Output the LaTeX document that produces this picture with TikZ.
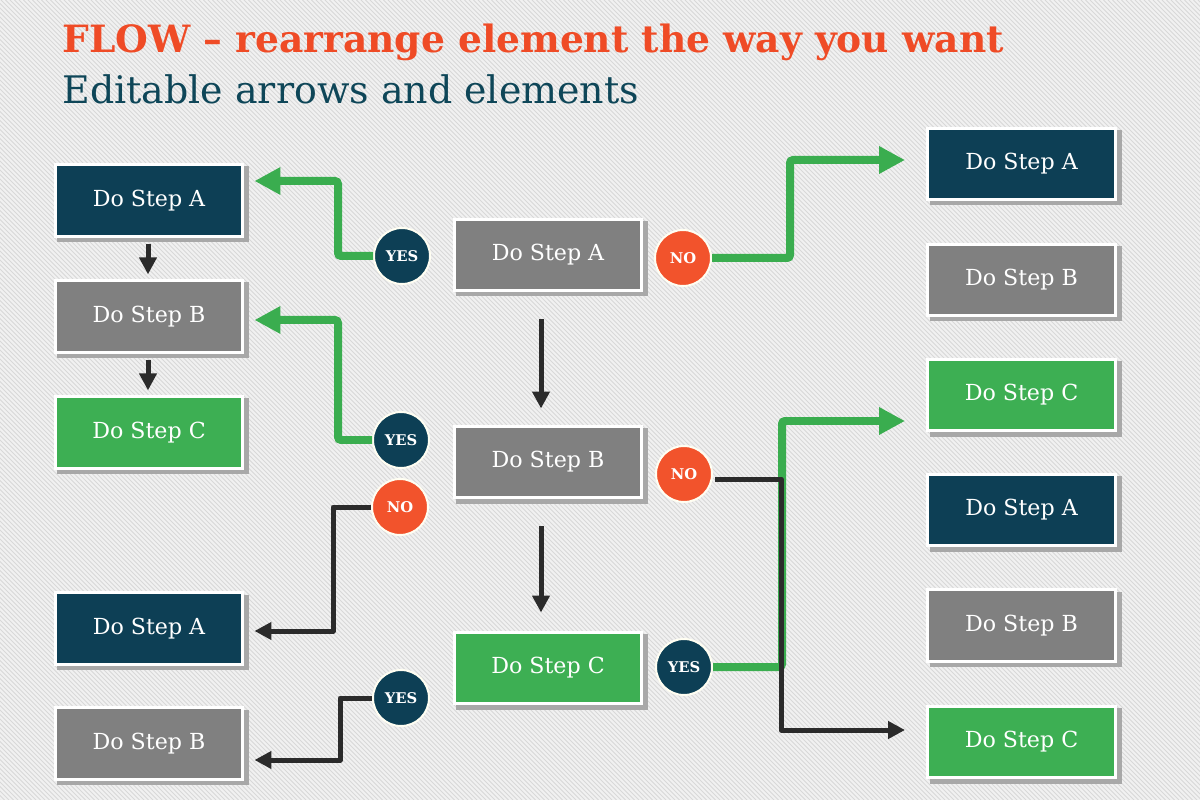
\documentclass[tikz,border=0pt]{standalone}
\usepackage{fontspec}
\setmainfont{DejaVu Serif}
\usetikzlibrary{arrows.meta,calc}
\definecolor{dteal}{HTML}{0D3F55}
\definecolor{mgray}{HTML}{808080}
\definecolor{bgreen}{HTML}{3DAF53}
\definecolor{agreen}{HTML}{3AAD4F}
\definecolor{corange}{HTML}{F2532C}
\definecolor{torange}{HTML}{EF4B26}
\definecolor{subteal}{HTML}{0E4658}
\definecolor{ablack}{HTML}{2B2B2B}
\definecolor{shadowc}{HTML}{A8A8A8}
\definecolor{bgc}{HTML}{F1F1F1}
\definecolor{stripec}{HTML}{D8D8D8}
\tikzset{
  stepbox/.style={draw=white, line width=0.06cm, minimum width=3.76cm, minimum height=1.44cm,
    text=white, font=\fontsize{12.6}{14}\selectfont, inner sep=0pt},
  darkbox/.style={stepbox, fill=dteal},
  graybox/.style={stepbox, fill=mgray},
  greenbox/.style={stepbox, fill=bgreen},
  badge/.style={circle, draw=white!95!yellow, line width=0.04cm, minimum size=1.12cm, inner sep=0pt,
    text=white, font=\bfseries\fontsize{8.4}{10}\selectfont},
  yesbadge/.style={badge, fill=dteal},
  nobadge/.style={badge, fill=corange},
  garrow/.style={draw=agreen, line width=0.16cm, rounded corners=0.06cm,
    -{Triangle[length=0.52cm, width=0.52cm]}},
  karrow/.style={draw=ablack, line width=0.1cm, line join=round,
    -{Triangle[length=0.34cm, width=0.34cm]}},
  stripe/.style={draw=stripec, line width=0.018cm},
}
\begin{document}
\begin{tikzpicture}[x=0.02cm,y=-0.02cm]
\useasboundingbox (0,0) rectangle (1200,800);
\fill[bgc] (0,0) rectangle (1200,800);
\begin{scope}
\clip (0,0) rectangle (1200,800);
\foreach \i in {-800,-795.5,...,1200} \draw[stripe] (\i,0) -- (\i+800,800);
\end{scope}

% titles
\node[anchor=base west, inner sep=0pt, text=torange, font=\bfseries\fontsize{21.4}{24}\selectfont] (title) at (62,53) {FLOW – rearrange element the way you want};
\node[anchor=base west, inner sep=0pt, text=subteal, font=\fontsize{21.6}{24}\selectfont] (sub) at (62,104) {Editable arrows and elements};

% box shadows
\foreach \cx/\cy in {149/200.5,149/316.5,149/432.5,149/628.5,149/743.5,548/255,548/462,548/668,1021.5/164,1021.5/280,1021.5/395,1021.5/510,1021.5/625.5,1021.5/742}
  \fill[shadowc] (\cx-92,\cy-34) rectangle (\cx+100,\cy+41.5);

\node[darkbox]  (L1) at (149,200.5) {Do Step A};
\node[graybox]  (L2) at (149,316.5) {Do Step B};
\node[greenbox] (L3) at (149,432.5) {Do Step C};
\node[darkbox]  (L4) at (149,628.5) {Do Step A};
\node[graybox]  (L5) at (149,743.5) {Do Step B};

\node[graybox]  (M1) at (548,255) {Do Step A};
\node[graybox]  (M2) at (548,462) {Do Step B};
\node[greenbox] (M3) at (548,668) {Do Step C};

\node[darkbox]  (R1) at (1021.5,164) {Do Step A};
\node[graybox]  (R2) at (1021.5,280) {Do Step B};
\node[greenbox] (R3) at (1021.5,395) {Do Step C};
\node[darkbox]  (R4) at (1021.5,510) {Do Step A};
\node[graybox]  (R5) at (1021.5,625.5) {Do Step B};
\node[greenbox] (R6) at (1021.5,742) {Do Step C};

% badges
\node[yesbadge] (Y1) at (402,256) {YES};
\node[nobadge]  (N1) at (683,258) {NO};
\node[yesbadge] (Y2) at (401,440) {YES};
\node[nobadge]  (N2) at (400,507) {NO};
\node[nobadge]  (N3) at (684,474) {NO};
\node[yesbadge] (Y3) at (684,667) {YES};
\node[yesbadge] (Y4) at (401,698) {YES};

% green connectors
\draw[garrow] (Y1.west) -- (338,256) |- ($(L1.east)+(10,-19.5)$);
\draw[garrow] (N1.east) -- (790,258) |- ($(R1.west)+(-21,-4)$);
\draw[garrow] (Y2.west) -- (338,440) |- ($(L2.east)+(10,3.5)$);
\draw[garrow] (Y3.east) -- (782,667) |- ($(R3.west)+(-21,26)$);

% black connectors
\draw[karrow] (N2.west) -- (333,507) |- ($(L4.east)+(10,2.5)$);
\draw[karrow] (Y4.west) -- (340,698) |- ($(L5.east)+(10,16.5)$);
\draw[karrow] ($(N3.east)+(2,5)$) -- (781,479) |- ($(R6.west)+(-21,-12)$);

\draw[karrow, shorten <=2pt, shorten >=1.5pt] ($(L1.south)+(-1,2)$) -- ($(L2.north)+(-1,-2)$);
\draw[karrow, shorten <=2pt, shorten >=1.5pt] ($(L2.south)+(-1,2)$) -- ($(L3.north)+(-1,-2)$);
\draw[karrow] ($(M1.south)+(-7,27)$) -- ($(M2.north)+(-7,-16)$);
\draw[karrow] ($(M2.south)+(-7,27)$) -- ($(M3.north)+(-7,-18)$);
\end{tikzpicture}
\end{document}
